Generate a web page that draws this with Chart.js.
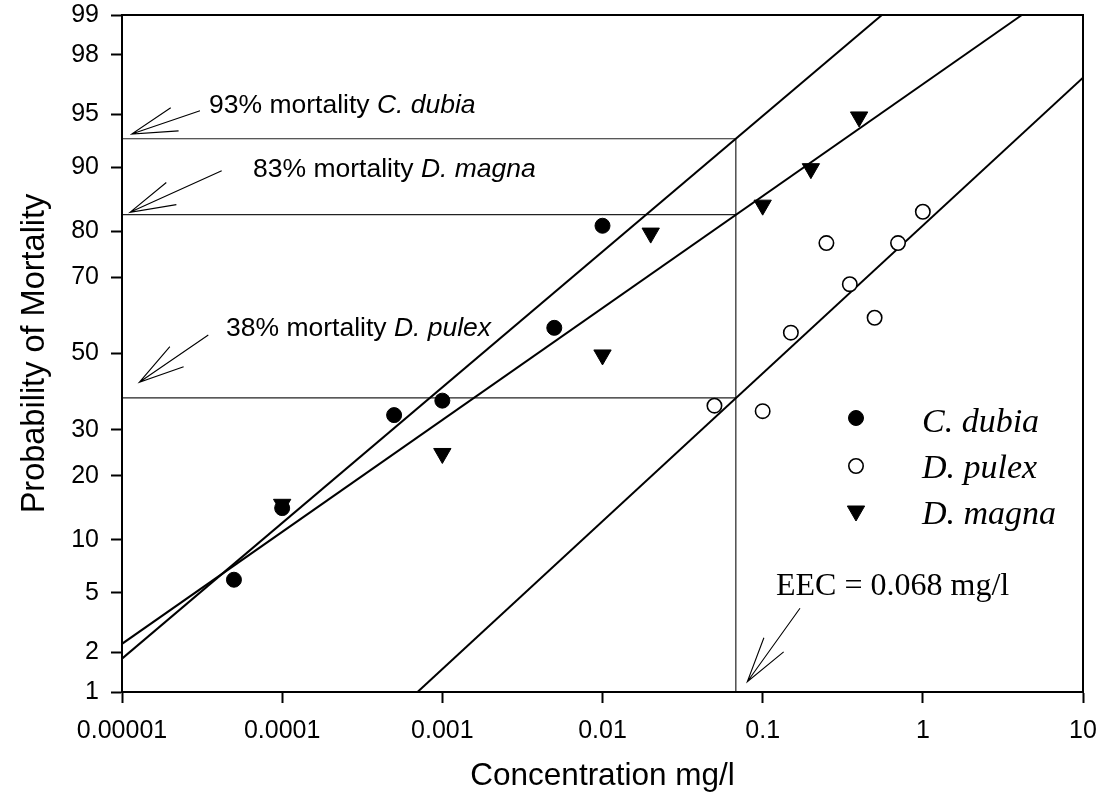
<!DOCTYPE html>
<html>
<head>
<meta charset="utf-8">
<script src="https://cdn.jsdelivr.net/npm/chart.js@4/dist/chart.umd.min.js"></script>
<style>
  html, body { margin: 0; padding: 0; background: #ffffff; }
  #wrap { width: 1105px; height: 810px; position: relative; }
</style>
</head>
<body>
<div id="wrap"><canvas id="c" width="1105" height="810"></canvas></div>
<script>
// ---------------- DATA ----------------
const xTickValues = [0.00001, 0.0001, 0.001, 0.01, 0.1, 1, 10];
const xTickLabels = ['0.00001', '0.0001', '0.001', '0.01', '0.1', '1', '10'];
const yTickValues = [1, 2, 5, 10, 20, 30, 50, 70, 80, 90, 95, 98, 99];
const yTickLabels = ['1', '2', '5', '10', '20', '30', '50', '70', '80', '90', '95', '98', '99'];

const seriesNames = ['C. dubia', 'D. pulex', 'D. magna'];

// C. dubia (filled circles)
const cDubiaConc = [0.00005, 0.0001, 0.0005, 0.001, 0.005, 0.01];
const cDubiaMort = [6, 14.4, 33.6, 37.3, 57, 81];
// D. pulex (open circles)
const dPulexConc = [0.05, 0.1, 0.15, 0.25, 0.35, 0.5, 0.7, 1];
const dPulexMort = [36, 34.6, 55.7, 77.6, 68.3, 59.7, 77.6, 83.5];
// D. magna (filled down triangles)
const dMagnaConc = [0.0001, 0.001, 0.01, 0.02, 0.1, 0.2, 0.4];
const dMagnaMort = [15, 24.6, 49.6, 79.6, 84.6, 89.8, 94.8];

// probit regression lines (end points)
const cDubiaFitConc = [0.00001, 0.555];
const cDubiaFitMort = [1.8, 99];
const dMagnaFitConc = [0.00001, 4.15];
const dMagnaFitMort = [2.3, 99];
const dPulexFitConc = [0.0007, 10];
const dPulexFitMort = [1, 97.1];

// EEC reference
const eecConc = 0.068;
const refMort = [93, 83, 38];   // C. dubia, D. magna, D. pulex at EEC
const xMin = 0.00001, xMax = 10, yMin = 1, yMax = 99;

// ---------------- probit helpers ----------------
function probit(p) {
  p = Math.min(Math.max(p, 1e-12), 1 - 1e-12);
  const a = [-3.969683028665376e+01, 2.209460984245205e+02, -2.759285104469687e+02, 1.383577518672690e+02, -3.066479806614716e+01, 2.506628277459239e+00];
  const b = [-5.447609879822406e+01, 1.615858368580409e+02, -1.556989798598866e+02, 6.680131188771972e+01, -1.328068155288572e+01];
  const c = [-7.784894002430293e-03, -3.223964580411365e-01, -2.400758277161838e+00, -2.549732539343734e+00, 4.374664141464968e+00, 2.938163982698783e+00];
  const d = [7.784695709041462e-03, 3.224671290700398e-01, 2.445134137142996e+00, 3.754408661907416e+00];
  const pl = 0.02425, ph = 1 - pl;
  let q, r;
  if (p < pl) {
    q = Math.sqrt(-2 * Math.log(p));
    return (((((c[0]*q+c[1])*q+c[2])*q+c[3])*q+c[4])*q+c[5]) / ((((d[0]*q+d[1])*q+d[2])*q+d[3])*q+1);
  }
  if (p <= ph) {
    q = p - 0.5; r = q * q;
    return (((((a[0]*r+a[1])*r+a[2])*r+a[3])*r+a[4])*r+a[5])*q / (((((b[0]*r+b[1])*r+b[2])*r+b[3])*r+b[4])*r+1);
  }
  q = Math.sqrt(-2 * Math.log(1 - p));
  return -(((((c[0]*q+c[1])*q+c[2])*q+c[3])*q+c[4])*q+c[5]) / ((((d[0]*q+d[1])*q+d[2])*q+d[3])*q+1);
}
function normCdf(z) {
  const t = 1 / (1 + 0.2316419 * Math.abs(z));
  const dd = 0.3989423 * Math.exp(-z * z / 2);
  let p = dd * t * (0.3193815 + t * (-0.3565638 + t * (1.781478 + t * (-1.821256 + t * 1.330274))));
  return z > 0 ? 1 - p : p;
}

// ---------------- custom probability (probit) scale ----------------
class ProbitScale extends Chart.Scale {
  determineDataLimits() {
    this.min = yMin;
    this.max = yMax;
  }
  buildTicks() {
    return yTickValues.map(v => ({ value: v }));
  }
  configure() {
    super.configure();
    this._z0 = probit(this.min / 100);
    this._z1 = probit(this.max / 100);
  }
  getLabelForValue(v) { return String(v); }
  getPixelForValue(v) {
    return this.getPixelForDecimal((probit(v / 100) - this._z0) / (this._z1 - this._z0));
  }
  getValueForPixel(px) {
    return 100 * normCdf(this._z0 + this.getDecimalForPixel(px) * (this._z1 - this._z0));
  }
  getPixelForTick(i) {
    return this.getPixelForValue(this.ticks[i].value);
  }
}
ProbitScale.id = 'probit';
ProbitScale.defaults = {};
Chart.register(ProbitScale);

// ---------------- build datasets ----------------
const zip = (xs, ys) => xs.map((x, i) => ({ x: x, y: ys[i] }));

const pointSets = [
  { label: seriesNames[0], data: zip(cDubiaConc, cDubiaMort), pointStyle: 'circle', pointRadius: 7.5,
    backgroundColor: '#000', borderColor: '#000', pointBorderWidth: 1, pointRotation: 0 },
  { label: seriesNames[1], data: zip(dPulexConc, dPulexMort), pointStyle: 'circle', pointRadius: 7.2,
    backgroundColor: '#fff', borderColor: '#000', pointBorderWidth: 1.6, pointRotation: 0 },
  { label: seriesNames[2], data: zip(dMagnaConc, dMagnaMort), pointStyle: 'triangle', pointRadius: 10,
    backgroundColor: '#000', borderColor: '#000', pointBorderWidth: 1, pointRotation: 180 }
].map(d => Object.assign({ showLine: false, order: 0, pointHoverRadius: d.pointRadius }, d));

const lineStyle = { showLine: true, pointRadius: 0, pointHoverRadius: 0, borderColor: '#000', borderWidth: 2, fill: false, order: 2 };
const refStyle = { showLine: true, pointRadius: 0, pointHoverRadius: 0, borderColor: '#222', borderWidth: 1.2, fill: false, order: 3 };

const fitSets = [
  Object.assign({ label: 'fit1', data: zip(cDubiaFitConc, cDubiaFitMort) }, lineStyle),
  Object.assign({ label: 'fit2', data: zip(dMagnaFitConc, dMagnaFitMort) }, lineStyle),
  Object.assign({ label: 'fit3', data: zip(dPulexFitConc, dPulexFitMort) }, lineStyle)
];
const refSets = [
  Object.assign({ label: 'ref1', data: [{ x: xMin, y: refMort[0] }, { x: eecConc, y: refMort[0] }, { x: eecConc, y: yMin }] }, refStyle),
  Object.assign({ label: 'ref2', data: [{ x: xMin, y: refMort[1] }, { x: eecConc, y: refMort[1] }] }, refStyle),
  Object.assign({ label: 'ref3', data: [{ x: xMin, y: refMort[2] }, { x: eecConc, y: refMort[2] }] }, refStyle)
];

// ---------------- plugins ----------------
const SANS = "'Liberation Sans', Arial, sans-serif";
const SERIF = "'Liberation Serif', 'Times New Roman', serif";

const framePlugin = {
  id: 'frame',
  afterDatasetsDraw(chart) {
    const { ctx, chartArea: a } = chart;
    ctx.save();
    ctx.strokeStyle = '#000';
    ctx.lineWidth = 2;
    ctx.strokeRect(a.left, a.top, a.right - a.left, a.bottom - a.top);
    ctx.restore();
  }
};

function drawArrow(ctx, tail, tip) {
  const ang = Math.atan2(tail[1] - tip[1], tail[0] - tip[0]);
  const len = 47, half = 15 * Math.PI / 180;
  ctx.beginPath();
  ctx.moveTo(tail[0], tail[1]);
  ctx.lineTo(tip[0], tip[1]);
  ctx.moveTo(tip[0] + len * Math.cos(ang - half), tip[1] + len * Math.sin(ang - half));
  ctx.lineTo(tip[0], tip[1]);
  ctx.lineTo(tip[0] + len * Math.cos(ang + half), tip[1] + len * Math.sin(ang + half));
  ctx.stroke();
}

const annotationPlugin = {
  id: 'notes',
  afterDatasetsDraw(chart) {
    const { ctx } = chart;
    ctx.save();
    ctx.strokeStyle = '#000';
    ctx.lineWidth = 1.1;
    ctx.fillStyle = '#000';
    ctx.textBaseline = 'alphabetic';
    ctx.textAlign = 'left';
    const notes = [
      { pct: refMort[0] + '% mortality ', sp: seriesNames[0], x: 209, y: 113, tail: [200, 110.7], tip: [131.7, 134] },
      { pct: refMort[1] + '% mortality ', sp: seriesNames[2], x: 253, y: 177, tail: [221.7, 170.7], tip: [130, 212.3] },
      { pct: refMort[2] + '% mortality ', sp: seriesNames[1], x: 226, y: 336, tail: [208.3, 335], tip: [139.3, 382.3] }
    ];
    notes.forEach(n => {
      ctx.font = '26.5px ' + SANS;
      ctx.fillText(n.pct, n.x, n.y);
      const w = ctx.measureText(n.pct).width;
      ctx.font = 'italic 26.5px ' + SANS;
      ctx.fillText(n.sp, n.x + w, n.y);
      drawArrow(ctx, n.tail, n.tip);
    });
    // EEC note
    ctx.font = '32px ' + SERIF;
    ctx.fillText('EEC = ' + eecConc + ' mg/l', 776, 595);
    drawArrow(ctx, [800, 608.3], [747.3, 681.7]);
    ctx.restore();
  }
};

const legendPlugin = {
  id: 'insideLegend',
  afterDraw(chart) {
    const { ctx } = chart;
    ctx.save();
    const rows = [418, 466, 513];
    const baselines = [432, 478, 524];
    chart.data.datasets.slice(0, 3).forEach((ds, i) => {
      const opts = {
        pointStyle: ds.pointStyle, radius: ds.pointRadius, rotation: ds.pointRotation,
        borderWidth: ds.pointBorderWidth
      };
      ctx.fillStyle = ds.backgroundColor;
      ctx.strokeStyle = ds.borderColor;
      ctx.lineWidth = ds.pointBorderWidth;
      Chart.helpers.drawPoint(ctx, opts, 856, rows[i] + (ds.pointStyle === 'triangle' ? -2 : 0));
      ctx.fillStyle = '#000';
      ctx.font = 'italic 34px ' + SERIF;
      ctx.textBaseline = 'alphabetic';
      ctx.textAlign = 'left';
      ctx.fillText(ds.label, 922, baselines[i]);
    });
    ctx.restore();
  }
};

// ---------------- chart ----------------
new Chart(document.getElementById('c'), {
  type: 'scatter',
  data: { datasets: pointSets.concat(fitSets, refSets) },
  options: {
    responsive: false,
    animation: false,
    devicePixelRatio: 1,
    events: [],
    layout: { padding: { left: 0, right: 22, top: 15, bottom: 0 } },
    plugins: { legend: { display: false }, tooltip: { enabled: false } },
    scales: {
      x: {
        type: 'logarithmic',
        position: 'bottom',
        min: xMin, max: xMax,
        afterBuildTicks: (s) => { s.ticks = xTickValues.map(v => ({ value: v, major: true })); },
        afterFit: (s) => { s.height = 118; s.paddingLeft = 0; s.paddingRight = 0; },
        ticks: {
          autoSkip: false, maxRotation: 0, minRotation: 0, padding: 13, color: '#000',
          font: { family: SANS, size: 25 },
          callback: (v, i) => xTickLabels[i]
        },
        grid: { display: true, drawOnChartArea: false, drawTicks: true, tickLength: 11, tickColor: '#000', tickWidth: 2 },
        border: { display: true, color: '#000', width: 2 },
        title: { display: true, text: 'Concentration mg/l', color: '#000', font: { family: SANS, size: 31.5 }, padding: { top: 0, bottom: 15 } }
      },
      y: {
        type: 'probit',
        position: 'left',
        afterFit: (s) => { s.width = 122; s.paddingTop = 0; s.paddingBottom = 0; },
        ticks: {
          autoSkip: false, padding: 12, color: '#000',
          font: { family: SANS, size: 25 },
          callback: (v, i) => yTickLabels[i]
        },
        grid: { display: true, drawOnChartArea: false, drawTicks: true, tickLength: 11, tickColor: '#000', tickWidth: 2 },
        border: { display: true, color: '#000', width: 2 },
        title: { display: true, text: 'Probability of Mortality', color: '#000', font: { family: SANS, size: 32.5 }, padding: { top: 16, bottom: 0 } }
      }
    }
  },
  plugins: [framePlugin, annotationPlugin, legendPlugin]
});
</script>
</body>
</html>
